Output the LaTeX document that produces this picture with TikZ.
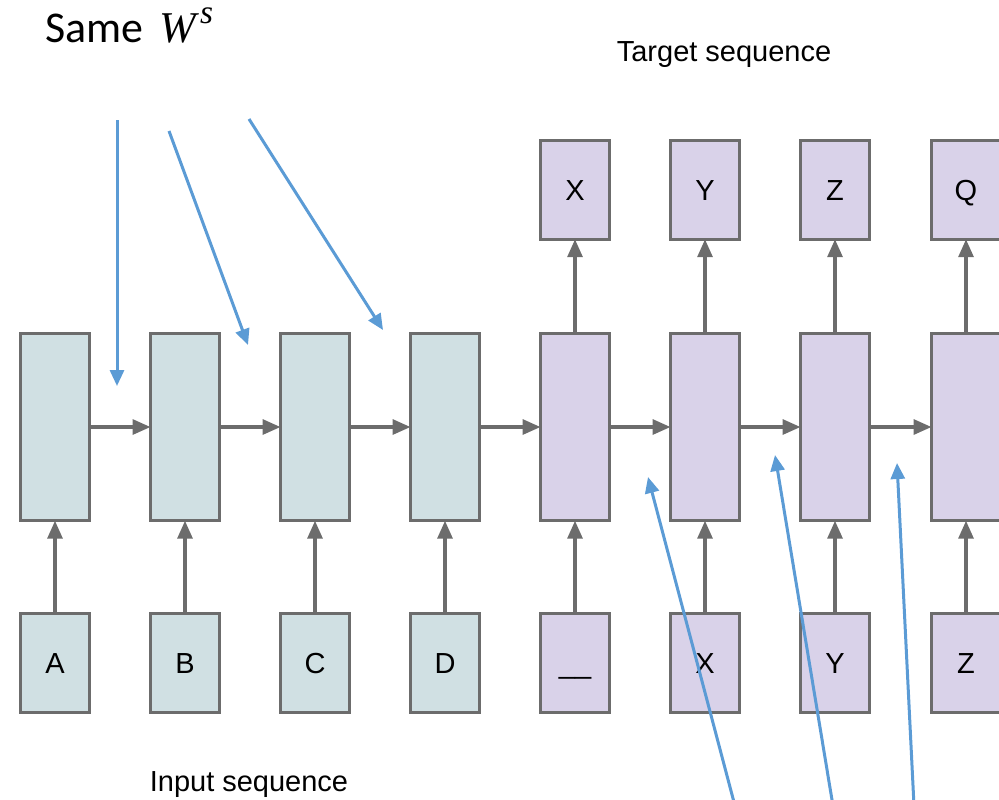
\documentclass[tikz,border=0pt]{standalone}
\usepackage{fontspec}
\setmainfont{Liberation Sans}
\newfontfamily\calibrifont{Carlito}
\newfontfamily\cambriafont{Liberation Serif}
\usepackage{tikz}
\usetikzlibrary{arrows.meta}
\definecolor{enccol}{HTML}{D0E0E3}
\definecolor{deccol}{HTML}{D9D2E9}
\definecolor{edgecol}{HTML}{6C6C6C}
\definecolor{notecol}{HTML}{5B9BD5}

\begin{document}
\begin{tikzpicture}[x=0.02cm, y=-0.02cm,
    cell/.style={draw=edgecol, line width=0.065cm, minimum width=1.38cm, minimum height=3.75cm, inner sep=0pt, outer sep=0pt},
    tok/.style={draw=edgecol, line width=0.065cm, minimum width=1.38cm, minimum height=1.97cm, inner sep=0pt, outer sep=0pt, text height=11.8pt, text depth=0pt, font=\fontsize{16.5}{18}\selectfont},
    enc/.style={fill=enccol},
    dec/.style={fill=deccol},
    flow/.style={draw=edgecol, line width=0.065cm, -{Triangle[length=0.36cm,width=0.3cm]}},
    note/.style={draw=notecol, line width=0.06cm, -{Triangle[length=0.32cm,width=0.28cm]}}]
    \clip (0,0) rectangle (999,799);

    % encoder
    \node[cell, enc] (enc1) at (55,427) {};
    \node[cell, enc] (enc2) at (185,427) {};
    \node[cell, enc] (enc3) at (315,427) {};
    \node[cell, enc] (enc4) at (445,427) {};
    % decoder
    \node[cell, dec] (dec1) at (575,427) {};
    \node[cell, dec] (dec2) at (705,427) {};
    \node[cell, dec] (dec3) at (835,427) {};
    \node[cell, dec] (dec4) at (966,427) {};

    % inputs
    \node[tok, enc] (in1) at (55,663) {A};
    \node[tok, enc] (in2) at (185,663) {B};
    \node[tok, enc] (in3) at (315,663) {C};
    \node[tok, enc] (in4) at (445,663) {D};
    \node[tok, dec] (in5) at (575,663) {\_\_};
    \node[tok, dec] (in6) at (705,663) {X};
    \node[tok, dec] (in7) at (835,663) {Y};
    \node[tok, dec] (in8) at (966,663) {Z};

    % outputs
    \node[tok, dec] (out1) at (575,190) {X};
    \node[tok, dec] (out2) at (705,190) {Y};
    \node[tok, dec] (out3) at (835,190) {Z};
    \node[tok, dec] (out4) at (966,190) {Q};

    \draw[flow] (in1) -- (enc1);
    \draw[flow] (in2) -- (enc2);
    \draw[flow] (in3) -- (enc3);
    \draw[flow] (in4) -- (enc4);
    \draw[flow] (in5) -- (dec1);
    \draw[flow] (in6) -- (dec2);
    \draw[flow] (in7) -- (dec3);
    \draw[flow] (in8) -- (dec4);
    \draw[flow] (enc1) -- (enc2);
    \draw[flow] (enc2) -- (enc3);
    \draw[flow] (enc3) -- (enc4);
    \draw[flow] (enc4) -- (dec1);
    \draw[flow] (dec1) -- (dec2);
    \draw[flow] (dec2) -- (dec3);
    \draw[flow] (dec3) -- (dec4);
    \draw[flow] (dec1) -- (out1);
    \draw[flow] (dec2) -- (out2);
    \draw[flow] (dec3) -- (out3);
    \draw[flow] (dec4) -- (out4);

    \node[anchor=base west, font=\fontsize{25}{29}\selectfont, inner sep=0pt] (same) at (45,42) {{\calibrifont Same}\hspace{0.32cm}{\cambriafont\itshape W}\raisebox{0.42em}{\fontsize{19}{21}\selectfont\cambriafont\itshape\hspace{0.08cm}s}};
    \node[font=\fontsize{16.5}{20}\selectfont] (target) at (724,55) {Target sequence};
    \node[font=\fontsize{16.5}{20}\selectfont] (input) at (249,785) {Input sequence};

    % shared weights, encoder side
    \coordinate (s1) at (117,120);
    \coordinate (s2) at (169,131);
    \coordinate (s3) at (249,119);
    \coordinate (e1) at (117,386);
    \coordinate (e2) at (248,345);
    \coordinate (e3) at (383,330);
    \draw[note] (s1) -- (e1);
    \draw[note] (s2) -- (e2);
    \draw[note] (s3) -- (e3);
    % shared weights, decoder side
    \coordinate (r1) at (735,806);
    \coordinate (r2) at (833,806);
    \coordinate (r3) at (914,806);
    \coordinate (d1) at (648,477);
    \coordinate (d2) at (775,455);
    \coordinate (d3) at (897,463);
    \draw[note] (r1) -- (d1);
    \draw[note] (r2) -- (d2);
    \draw[note] (r3) -- (d3);
\end{tikzpicture}
\end{document}
